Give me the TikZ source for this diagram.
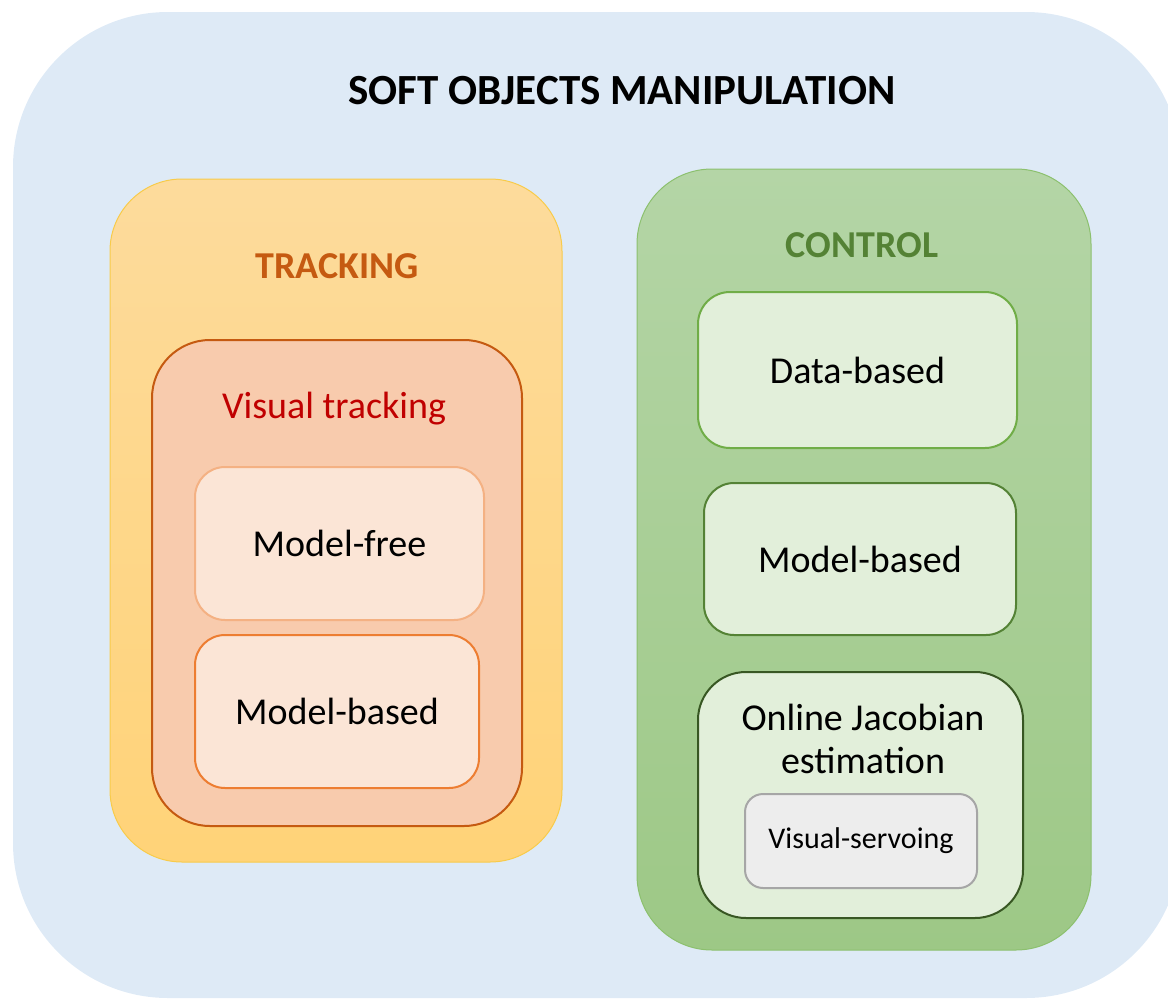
\documentclass[tikz,border=0pt]{standalone}
\usepackage{fontspec}
\setmainfont{Carlito}
\definecolor{outerblue}{HTML}{DEEAF6}
\definecolor{trackTop}{HTML}{FDDB9C}
\definecolor{trackBot}{HTML}{FFD378}
\definecolor{trackEdge}{HTML}{F8CB4A}
\definecolor{visFill}{HTML}{F8CBAD}
\definecolor{darkOrange}{HTML}{C55A11}
\definecolor{paleOrange}{HTML}{FBE5D6}
\definecolor{lightOrangeEdge}{HTML}{F4B183}
\definecolor{orangeEdge}{HTML}{ED7D31}
\definecolor{ctrlTop}{HTML}{B4D5A6}
\definecolor{ctrlBot}{HTML}{9DC886}
\definecolor{ctrlEdge}{HTML}{8CC06E}
\definecolor{paleGreen}{HTML}{E2EFDA}
\definecolor{greenEdge}{HTML}{70AD47}
\definecolor{midGreen}{HTML}{548235}
\definecolor{darkGreen}{HTML}{385723}
\definecolor{greyFill}{HTML}{EDEDED}
\definecolor{greyEdge}{HTML}{A6A6A6}
\definecolor{titleRed}{HTML}{C00000}
\begin{document}
\begin{tikzpicture}[x=1pt,y=-1pt,
  box/.style={anchor=north west, inner sep=0pt, outer sep=0pt, rectangle},
  bigtext/.style={font=\fontsize{38}{46}\selectfont},
  heading/.style={font=\bfseries\fontsize{38}{46}\selectfont, anchor=base},
  inner/.style={box, line width=2pt, text=black, bigtext}]
\useasboundingbox (0,0) rectangle (1168,999);

% background panel
\node[box, fill=outerblue, rounded corners=155pt,
      minimum width=1168pt, minimum height=986pt] (outer) at (13,12) {};
\node[font=\bfseries\fontsize{43}{50}\selectfont, anchor=base] (title) at (622,104)
  {SOFT OBJECTS MANIPULATION};

% tracking column
\node[box, top color=trackTop, bottom color=trackBot, draw=trackEdge, line width=1pt,
      rounded corners=72pt, minimum width=452pt, minimum height=683pt] (tracking) at (110,179) {};
\node[heading, text=darkOrange] (trackingtitle) at (337,278) {TRACKING};
\node[box, fill=visFill, draw=darkOrange, line width=2pt,
      rounded corners=58pt, minimum width=370pt, minimum height=486pt] (visual) at (152,340) {};
\node[bigtext, text=titleRed, anchor=base] (visualtitle) at (334,418) {Visual tracking};
\node[inner, fill=paleOrange, draw=lightOrangeEdge, rounded corners=30pt,
      minimum width=289pt, minimum height=153pt] (modelfree) at (195,467) {Model-free};
\node[inner, fill=paleOrange, draw=orangeEdge, rounded corners=30pt,
      minimum width=284pt, minimum height=153pt] (modelbasedL) at (195,635) {Model-based};

% control column
\node[box, top color=ctrlTop, bottom color=ctrlBot, draw=ctrlEdge, line width=1pt,
      rounded corners=75pt, minimum width=454pt, minimum height=781pt] (control) at (637,169) {};
\node[heading, text=midGreen] (controltitle) at (862,257) {CONTROL};
\node[inner, fill=paleGreen, draw=greenEdge, rounded corners=32pt,
      minimum width=319pt, minimum height=156pt] (databased) at (698,292) {Data-based};
\node[inner, fill=paleGreen, draw=midGreen, rounded corners=30pt,
      minimum width=312pt, minimum height=152pt] (modelbasedR) at (704,483) {Model-based};
\node[box, fill=paleGreen, draw=darkGreen, line width=2pt, rounded corners=48pt,
      minimum width=325pt, minimum height=246pt] (jacobian) at (698,672) {};
\node[bigtext, anchor=base] (jactitle) at (863,730) {Online Jacobian};
\node[bigtext, anchor=base] (jacsub) at (863,773) {estimation};
\node[box, fill=greyFill, draw=greyEdge, line width=2pt, rounded corners=18pt,
      minimum width=232pt, minimum height=94pt, text=black,
      font=\fontsize{30}{36}\selectfont] (servo) at (745,794) {Visual-servoing};
\end{tikzpicture}
\end{document}
